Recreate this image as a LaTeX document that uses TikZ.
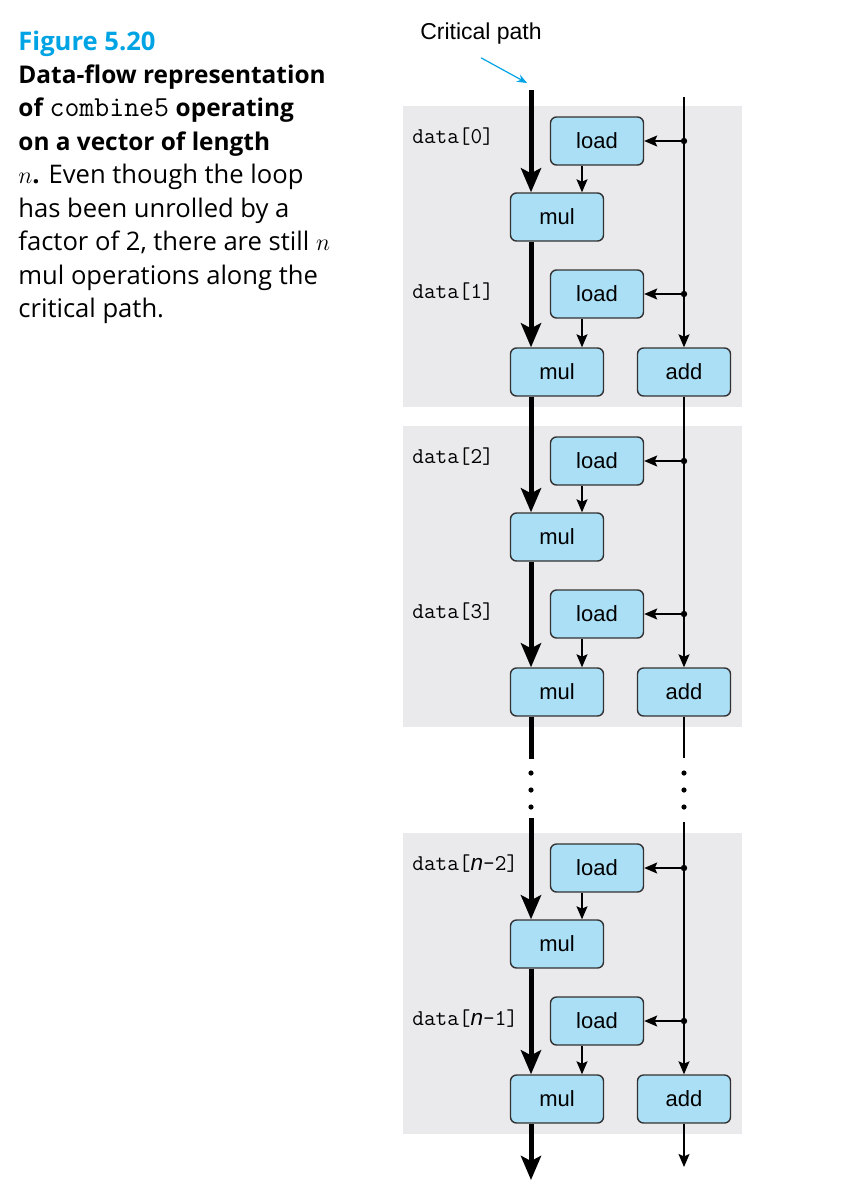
\documentclass[tikz,border=0pt]{standalone}
\usepackage{fontspec}
\setmainfont{Open Sans}
\newfontfamily\opfont{Liberation Sans}
\usetikzlibrary{positioning, arrows.meta}

\definecolor{figblue}{RGB}{0,164,228}
\definecolor{opfill}{RGB}{170,223,246}
\definecolor{opline}{RGB}{50,50,50}
\definecolor{panelgray}{RGB}{234,234,236}

\begin{document}
\begin{tikzpicture}[x=0.5pt, y=-0.5pt]
	\tikzstyle{op}=[draw=opline, line width=0.7pt, fill=opfill, rounded corners=3pt, minimum width=46.5pt, minimum height=24pt, inner sep=0pt, font=\opfont\fontsize{11}{13}\selectfont]
	\tikzstyle{datalabel}=[anchor=west, inner sep=0pt, font=\ttfamily\fontsize{11.3}{12}\selectfont]
	\tikzstyle{critpath}=[line width=2.5pt, -{Stealth[width=10pt, length=12pt, inset=2.5pt]}]
	\tikzstyle{critline}=[line width=2.5pt]
	\tikzstyle{flow}=[line width=0.75pt, -{Stealth[width=5.5pt, length=6.5pt, inset=1.2pt]}]
	\tikzstyle{pointer}=[line width=0.6pt, draw=figblue, -{Stealth[width=4pt, length=5pt]}]
	\tikzstyle{panel}=[fill=panelgray]
	\useasboundingbox (0,0) rectangle (860,1200);

	% caption
	\node[anchor=base west, inner sep=0pt, text=figblue, font=\fontsize{12.8}{16}\selectfont\bfseries] (title) at (18,50) {Figure 5.20};
	\node[anchor=base west, inner sep=0pt, align=left, font=\fontsize{12.8}{16.75}\selectfont] (caption) at (18,317.5) {%
		{\fontsize{12.2}{16.75}\selectfont\bfseries Data-flow representation}\\
		{\fontsize{12.2}{16.75}\selectfont\bfseries of} {\ttfamily\fontsize{14.5}{16}\selectfont combine5} {\fontsize{12.2}{16.75}\selectfont\bfseries operating}\\
		{\fontsize{12.2}{16.75}\selectfont\bfseries on a vector of length}\\
		$n$\textbf{.} Even though the loop\\
		has been unrolled by a\\
		factor of 2, there are still $n$\\
		mul operations along the\\
		critical path.};

	% gray panels
	\fill[panel] (403,106) rectangle (742,407);
	\fill[panel] (403,426) rectangle (742,727);
	\fill[panel] (403,833) rectangle (742,1134);

	% first panel
	\node[op] (load0) at (597,141) {load};
	\node[op] (mul0) at (557,217) {mul};
	\node[op] (load1) at (597,294) {load};
	\node[op] (mul1) at (557,372) {mul};
	\node[op] (add1) at (684,372) {add};
	\node[datalabel] (data0) at (412,137) {data[0]};
	\node[datalabel] (data1) at (412,292) {data[1]};

	% second panel
	\node[op] (load2) at (597,461) {load};
	\node[op] (mul2) at (557,537) {mul};
	\node[op] (load3) at (597,614) {load};
	\node[op] (mul3) at (557,692) {mul};
	\node[op] (add3) at (684,692) {add};
	\node[datalabel] (data2) at (412,457) {data[2]};
	\node[datalabel] (data3) at (412,612) {data[3]};

	% last panel
	\node[op] (loadn2) at (597,868) {load};
	\node[op] (muln2) at (557,944) {mul};
	\node[op] (loadn1) at (597,1021) {load};
	\node[op] (muln1) at (557,1099) {mul};
	\node[op] (addn1) at (684,1099) {add};
	\node[datalabel] (datan2) at (412,864) {data[{\opfont\itshape n}-2]};
	\node[datalabel] (datan1) at (412,1019) {data[{\opfont\itshape n}-1]};

	% critical path label
	\node[font=\opfont\fontsize{11.5}{13}\selectfont] (crit) at (481,34) {Critical path};
	\coordinate (critend) at (527,83);
	\draw[pointer] ([yshift=-3pt]crit.south) -- (critend);

	% thick chain of mul
	\coordinate (top) at (531,90);
	\coordinate (gapa) at (531,759);
	\coordinate (gapb) at (531,818);
	\coordinate (bottom) at (531,1180);
	\draw[critpath] (top) -- (top |- mul0.north);
	\draw[critpath] (top |- mul0.south) -- (top |- mul1.north);
	\draw[critpath] (top |- mul1.south) -- (top |- mul2.north);
	\draw[critpath] (top |- mul2.south) -- (top |- mul3.north);
	\draw[critline] (top |- mul3.south) -- (gapa);
	\draw[critpath] (gapb) -- (top |- muln2.north);
	\draw[critpath] (top |- muln2.south) -- (top |- muln1.north);
	\draw[critpath] (top |- muln1.south) -- (bottom);

	% load into mul
	\draw[flow] ([xshift=-7.5pt]load0.south) -- ([xshift=-7.5pt]load0.south |- mul0.north);
	\draw[flow] ([xshift=-7.5pt]load1.south) -- ([xshift=-7.5pt]load1.south |- mul1.north);
	\draw[flow] ([xshift=-7.5pt]load2.south) -- ([xshift=-7.5pt]load2.south |- mul2.north);
	\draw[flow] ([xshift=-7.5pt]load3.south) -- ([xshift=-7.5pt]load3.south |- mul3.north);
	\draw[flow] ([xshift=-7.5pt]loadn2.south) -- ([xshift=-7.5pt]loadn2.south |- muln2.north);
	\draw[flow] ([xshift=-7.5pt]loadn1.south) -- ([xshift=-7.5pt]loadn1.south |- muln1.north);

	% index chain of add
	\coordinate (ctr) at (684,97);
	\coordinate (ctra) at (684,758);
	\coordinate (ctrb) at (684,822);
	\coordinate (ctrend) at (684,1167);
	\draw[flow] (ctr) -- (add1.north);
	\draw[flow] (add1.south) -- (add3.north);
	\draw[line width=0.75pt] (add3.south) -- (ctra);
	\draw[flow] (ctrb) -- (addn1.north);
	\draw[flow] (addn1.south) -- (ctrend);

	% branch to load
	\fill (ctr |- load0) circle (1.6pt);
	\fill (ctr |- load1) circle (1.6pt);
	\fill (ctr |- load2) circle (1.6pt);
	\fill (ctr |- load3) circle (1.6pt);
	\fill (ctr |- loadn2) circle (1.6pt);
	\fill (ctr |- loadn1) circle (1.6pt);
	\draw[flow] (ctr |- load0) -- (load0.east);
	\draw[flow] (ctr |- load1) -- (load1.east);
	\draw[flow] (ctr |- load2) -- (load2.east);
	\draw[flow] (ctr |- load3) -- (load3.east);
	\draw[flow] (ctr |- loadn2) -- (loadn2.east);
	\draw[flow] (ctr |- loadn1) -- (loadn1.east);

	% ellipsis
	\fill (531,773) circle (1.3pt) (531,790) circle (1.3pt) (531,807) circle (1.3pt);
	\fill (684,773) circle (1.3pt) (684,790) circle (1.3pt) (684,807) circle (1.3pt);
\end{tikzpicture}
\end{document}
